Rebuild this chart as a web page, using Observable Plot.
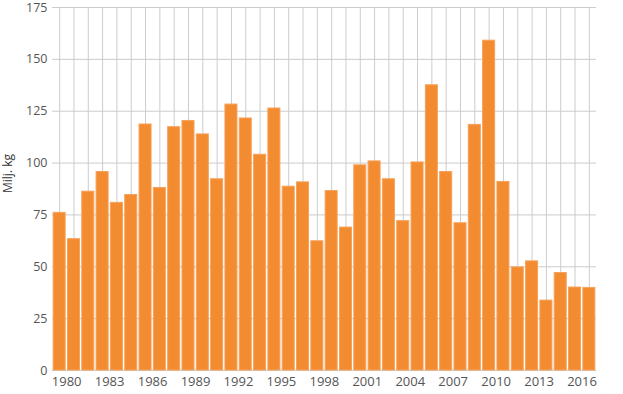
<!DOCTYPE html>
<html>
<head>
<meta charset="utf-8">
<script src="https://cdn.jsdelivr.net/npm/d3@7"></script>
<script src="https://cdn.jsdelivr.net/npm/@observablehq/plot@0.6"></script>
<style>
  html, body { margin: 0; padding: 0; background: #fff; }
  #chart svg { display: block; overflow: visible; }
</style>
</head>
<body>
<div id="chart"></div>
<script>
const years = d3.range(1980, 2018);
const values = [76, 63.3, 86.2, 95.7, 80.8, 84.6, 118.6, 88, 117.3, 120.3,
                113.8, 92.2, 128.2, 121.5, 104, 126.3, 88.6, 90.7, 62.3, 86.5,
                68.9, 98.9, 100.8, 92.2, 72, 100.3, 137.5, 95.7, 71, 118.4,
                159, 90.9, 49.7, 52.6, 33.7, 47, 40, 39.8];
const yTicks = [0, 25, 50, 75, 100, 125, 150, 175];
const xTickYears = d3.range(1980, 2017, 3);
const yLabel = "Milj. kg";

const data = years.map((y, i) => ({year: y, value: values[i]}));

const chart = Plot.plot({
  width: 623,
  height: 394,
  marginLeft: 52,
  marginRight: 27,
  marginTop: 7,
  marginBottom: 24,
  style: {fontFamily: "'Open Sans', sans-serif", fontSize: "12px", color: "#555", overflow: "visible"},
  x: {type: "band", domain: years, paddingInner: 0.16, paddingOuter: 0.08, round: false, label: null},
  y: {domain: [0, 175], label: null},
  marks: [
    Plot.gridY(yTicks, {stroke: "#ccc", strokeOpacity: 1}),
    Plot.gridX(years, {stroke: "#ccc", strokeOpacity: 1}),
    Plot.barY(data, {x: "year", y: "value", fill: "#f38b30", stroke: "#f6a25a", strokeWidth: 1}),
    Plot.axisY(yTicks, {tickSize: 0, tickPadding: 5, fontSize: 12.5, fill: "#555"}),
    Plot.axisX(xTickYears, {tickSize: 0, tickPadding: 6, dx: 7, fontSize: 13, fill: "#555", tickFormat: d => String(d)}),
    Plot.text([yLabel], {frameAnchor: "left", dx: -44, dy: 4, rotate: -90, fontSize: 12, fill: "#333"})
  ]
});
document.getElementById("chart").append(chart);
</script>
</body>
</html>
